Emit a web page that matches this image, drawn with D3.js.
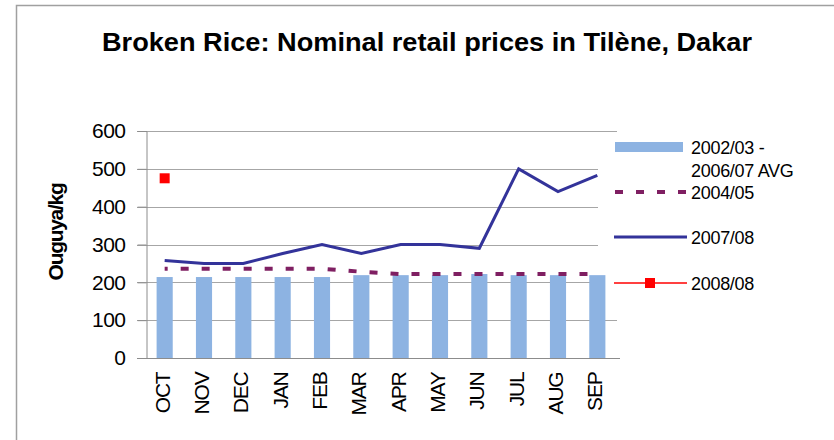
<!DOCTYPE html>
<html>
<head>
<meta charset="utf-8">
<script src="https://cdn.jsdelivr.net/npm/d3@7"></script>
<style>
  body { margin: 0; background: #fff; }
  text { font-family: "Liberation Sans", Arial, sans-serif; }
</style>
</head>
<body>
<div id="my_dataviz"></div>
<script>

var months = ["OCT", "NOV", "DEC", "JAN", "FEB", "MAR", "APR", "MAY", "JUN", "JUL", "AUG", "SEP"];
var avg = [214, 214, 214, 214, 214, 219, 219, 219, 222, 219, 219, 219];
var y0405 = [236, 236, 236, 236, 236, 228, 222, 222, 222, 222, 222, 222];
var y0708 = [258, 250, 250, 276, 300, 276, 300, 300, 290, 500, 440, 483];
var y0808 = [475];
var yTicks = [0, 100, 200, 300, 400, 500, 600];

var width = 834, height = 440;

var svg = d3.select("#my_dataviz")
  .append("svg")
    .attr("width", width)
    .attr("height", height);

// outer frame (runs off right and bottom)
svg.append("path")
  .attr("d", "M16.5,440 V5.5 H834")
  .attr("fill", "none")
  .attr("stroke", "#a0a0a0")
  .attr("stroke-width", 1.5);

// title
svg.append("text")
  .attr("x", 427)
  .attr("y", 51)
  .attr("text-anchor", "middle")
  .attr("textLength", 650)
  .attr("lengthAdjust", "spacingAndGlyphs")
  .style("font-size", "26px")
  .style("font-weight", "bold")
  .text("Broken Rice: Nominal retail prices in Tilène, Dakar");

var x = d3.scaleBand()
  .domain(months)
  .range([145, 617]);

var y = d3.scaleLinear()
  .domain([0, 600])
  .range([358, 131]);

function cx(d, i) { return x(months[i]) + x.bandwidth() / 2; }

// gridlines
svg.selectAll("grid")
  .data(yTicks.slice(1))
  .enter()
  .append("line")
    .attr("x1", 137)
    .attr("x2", 617)
    .attr("y1", function(d) { return Math.round(y(d)) + 0.5; })
    .attr("y2", function(d) { return Math.round(y(d)) + 0.5; })
    .attr("stroke", "#a6a6a6")
    .attr("stroke-width", 1);

// y axis
var yAxis = svg.append("g")
  .attr("transform", "translate(146.5,0)")
  .call(d3.axisLeft(y).tickValues(yTicks).tickSize(9).tickPadding(12));
yAxis.select(".domain").attr("stroke", "#8c8c8c");
yAxis.selectAll(".tick line").attr("stroke", "#8c8c8c");
yAxis.selectAll(".tick text")
  .style("font-size", "21px")
  .style("letter-spacing", "-0.5px")
  .attr("fill", "#000");

svg.append("text")
  .attr("transform", "translate(63,232) rotate(-90)")
  .attr("text-anchor", "middle")
  .style("font-size", "21px")
  .style("font-weight", "bold")
  .style("letter-spacing", "-1.3px")
  .text("Ouguya/kg");

// legend background
svg.append("rect")
  .attr("x", 598)
  .attr("y", 136)
  .attr("width", 236)
  .attr("height", 166)
  .attr("fill", "#fff");

// bars
var bw = x.bandwidth() * 0.41;
svg.selectAll("mybar")
  .data(avg)
  .enter()
  .append("rect")
    .attr("x", function(d, i) { return cx(d, i) - bw / 2; })
    .attr("y", function(d) { return y(d); })
    .attr("width", bw)
    .attr("height", function(d) { return y(0) - y(d); })
    .attr("fill", "#8db3e2");

// x axis
var xAxis = svg.append("g")
  .attr("transform", "translate(0,358.5)")
  .call(d3.axisBottom(x).tickSize(0).tickPadding(0));
xAxis.select(".domain").attr("stroke", "#8c8c8c").attr("d", "M137,0H620");
xAxis.selectAll(".tick text")
  .attr("transform", "translate(5,14) rotate(-90)")
  .attr("text-anchor", "end")
  .attr("dy", 0)
  .attr("y", 0)
  .attr("x", 0)
  .style("font-size", "21px")
  .style("letter-spacing", "-1.2px")
  .attr("fill", "#000");

var line = d3.line()
  .x(cx)
  .y(function(d) { return y(d); });

svg.append("path")
  .datum(y0405)
  .attr("d", line)
  .attr("fill", "none")
  .attr("stroke", "#7f1f62")
  .attr("stroke-width", 4)
  .attr("stroke-dasharray", "8,13")
  .attr("stroke-dashoffset", -16);

svg.append("path")
  .datum(y0708)
  .attr("d", line)
  .attr("fill", "none")
  .attr("stroke", "#33339a")
  .attr("stroke-width", 3);

svg.selectAll("mysq")
  .data(y0808)
  .enter()
  .append("rect")
    .attr("x", function(d, i) { return cx(d, i) - 5; })
    .attr("y", function(d) { return y(d) - 5; })
    .attr("width", 10)
    .attr("height", 10)
    .attr("fill", "#ff0000");

// legend
var lg = svg.append("g").style("font-size", "18px").style("letter-spacing", "-0.3px");
lg.append("rect").attr("x", 615).attr("y", 142).attr("width", 68).attr("height", 10).attr("fill", "#8db3e2");
lg.append("text").attr("x", 691).attr("y", 154).text("2002/03 -");
lg.append("text").attr("x", 691).attr("y", 177).text("2006/07 AVG");

lg.append("line").attr("x1", 615).attr("x2", 686).attr("y1", 192).attr("y2", 192)
  .attr("stroke", "#7f1f62").attr("stroke-width", 4).attr("stroke-dasharray", "8,13");
lg.append("text").attr("x", 691).attr("y", 199).text("2004/05");

lg.append("line").attr("x1", 614).attr("x2", 687).attr("y1", 237).attr("y2", 237)
  .attr("stroke", "#33339a").attr("stroke-width", 3);
lg.append("text").attr("x", 691).attr("y", 244).text("2007/08");

lg.append("line").attr("x1", 614).attr("x2", 687).attr("y1", 283).attr("y2", 283)
  .attr("stroke", "#ff0000").attr("stroke-width", 1.5);
lg.append("rect").attr("x", 645).attr("y", 278).attr("width", 10).attr("height", 10).attr("fill", "#ff0000");
lg.append("text").attr("x", 691).attr("y", 290).text("2008/08");

</script>
</body>
</html>
